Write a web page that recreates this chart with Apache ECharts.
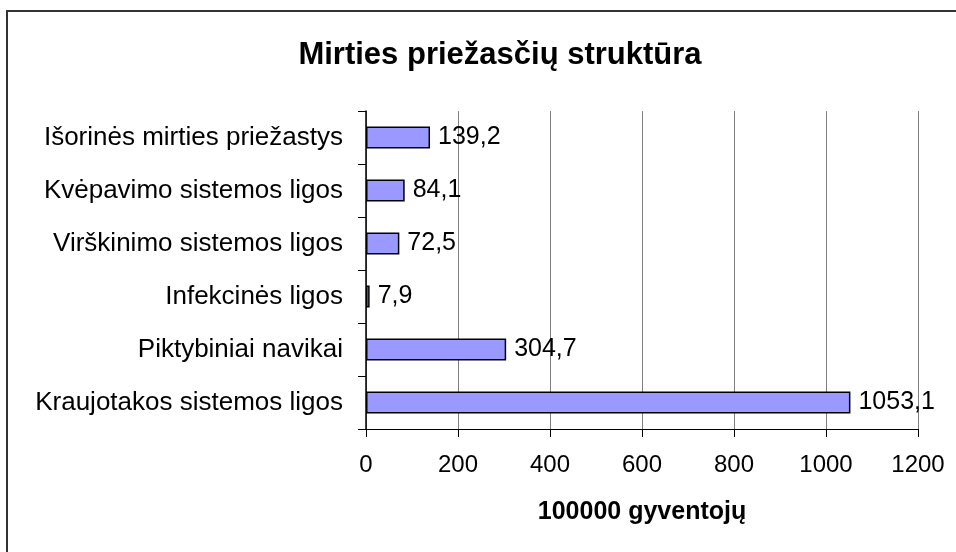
<!DOCTYPE html>
<html>
<head>
<meta charset="utf-8">
<script src="https://cdn.jsdelivr.net/npm/echarts@6/dist/echarts.min.js"></script>
<style>html,body{margin:0;padding:0;background:#fff;}#c{width:956px;height:552px;}</style>
</head>
<body>
<div id="c"></div>
<script>
const titleText = 'Mirties priežasčių struktūra';
const axisName = '100000 gyventojų';
const categories = [
  'Išorinės mirties priežastys',
  'Kvėpavimo sistemos ligos',
  'Virškinimo sistemos ligos',
  'Infekcinės ligos',
  'Piktybiniai navikai',
  'Kraujotakos sistemos ligos'
];
const values = [139.2, 84.1, 72.5, 7.9, 304.7, 1053.1];
const xTicks = [0, 200, 400, 600, 800, 1000, 1200];

const FONT = "'Liberation Sans', Arial, sans-serif";
const chart = echarts.init(document.getElementById('c'), null, {renderer: 'canvas'});
chart.setOption({
  animation: false,
  backgroundColor: '#fff',
  graphic: [{
    type: 'rect',
    shape: {x: 7, y: 11, width: 1000, height: 600},
    style: {fill: 'none', stroke: '#333', lineWidth: 2},
    silent: true, z: 0
  }],
  title: {
    text: titleText,
    left: 495, top: 35, textAlign: 'center',
    textStyle: {fontFamily: FONT, fontWeight: 'bold', fontSize: 31, color: '#000'}
  },
  grid: {left: 366, right: 38, top: 111, bottom: 123, containLabel: false},
  xAxis: {
    type: 'value',
    min: xTicks[0], max: xTicks[xTicks.length - 1], interval: xTicks[1] - xTicks[0],
    name: axisName, nameLocation: 'middle', nameGap: 71,
    nameTextStyle: {fontFamily: FONT, fontWeight: 'bold', fontSize: 25, color: '#000'},
    axisLine: {show: true, lineStyle: {color: '#000', width: 1}},
    axisTick: {show: true, length: 8, lineStyle: {color: '#000', width: 1}},
    axisLabel: {fontFamily: FONT, fontSize: 24, color: '#000', margin: 24, formatter: v => String(v)},
    splitLine: {show: true, lineStyle: {color: '#808080', width: 1}}
  },
  yAxis: {
    type: 'category',
    data: categories,
    inverse: true,
    axisLine: {show: true, lineStyle: {color: '#000', width: 1.5}},
    axisTick: {show: true, length: 8, lineStyle: {color: '#000', width: 1}},
    axisLabel: {fontFamily: FONT, fontSize: 26, color: '#000', margin: 23},
    splitLine: {show: false}
  },
  series: [{
    type: 'bar',
    data: values,
    barWidth: 22,
    itemStyle: {color: '#9999FF', borderColor: '#000', borderWidth: 1.5},
    label: {
      show: true, position: 'right', distance: 8,
      fontFamily: FONT, fontSize: 25, color: '#000',
      formatter: p => String(p.value).replace('.', ',')
    }
  }]
});
</script>
</body>
</html>
